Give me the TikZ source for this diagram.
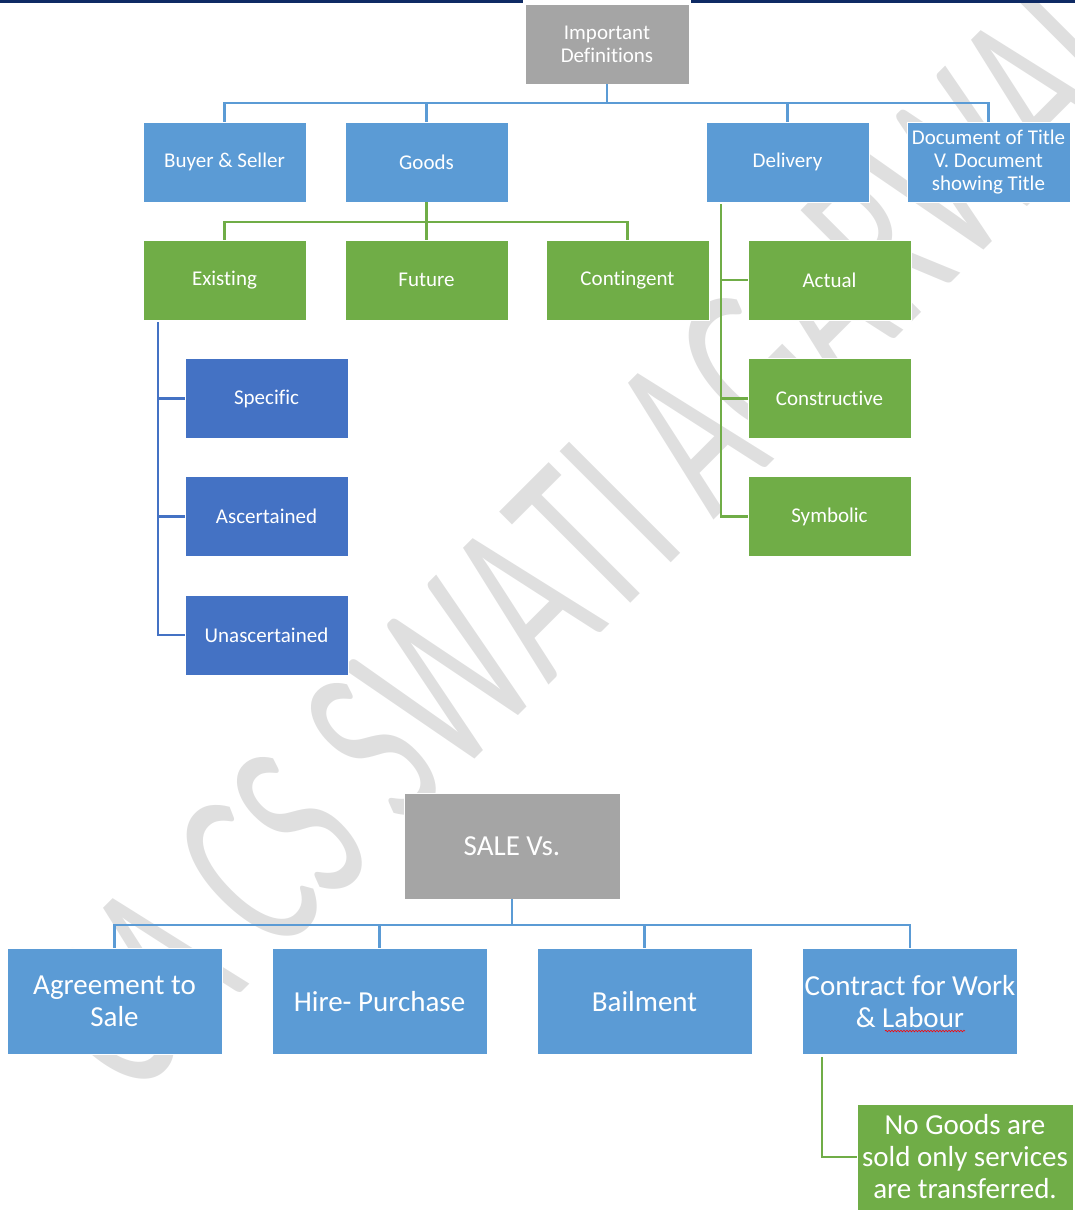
\documentclass[tikz,border=0pt]{standalone}
\usepackage{fontspec}
\setmainfont{Carlito}[Ligatures=NoCommon]
\newfontfamily\wmfont{Carlito}[FakeStretch=0.616, Ligatures=NoCommon, Kerning=Off]
\usetikzlibrary{decorations.pathmorphing}
\definecolor{boxgrey}{HTML}{A5A5A5}
\definecolor{lblue}{HTML}{5B9BD5}
\definecolor{dblue}{HTML}{4472C4}
\definecolor{lgreen}{HTML}{70AD47}
\definecolor{navy}{HTML}{0E2A64}
\definecolor{wmgrey}{HTML}{DFDFDF}
\begin{document}
\begin{tikzpicture}[x=1pt,y=-1pt,
  box/.style={rectangle, draw=white, line width=0.8pt, text=white, align=center,
    inner sep=0pt, minimum width=163pt, minimum height=80pt,
    font=\fontsize{21}{23}\selectfont},
  bigbox/.style={box, minimum width=215pt, minimum height=106pt,
    font=\fontsize{29}{32}\selectfont},
  greybox/.style={fill=boxgrey},
  bluebox/.style={fill=lblue},
  darkbox/.style={fill=dblue},
  greenbox/.style={fill=lgreen},
  bconn/.style={draw=lblue, line width=2.6pt},
  gconn/.style={draw=lgreen, line width=2.6pt},
  dconn/.style={draw=dblue, line width=2.6pt},
  wm/.style={text=wmgrey, inner sep=0pt, rotate=45,
    font=\wmfont\fontsize{245}{250}\selectfont}
]
\useasboundingbox (0,0) rectangle (1075,1210);
\clip (0,0) rectangle (1075,1210);

% watermark
\node[wm, anchor=base east] (wma) at (662,572) {CA CS SWAT};
\node[wm, anchor=base west] (wmb) at (662,572) {I AGARWAL};

% top bar
\fill[navy] (0,0) rectangle (523,3);
\fill[navy] (691,0) rectangle (1075,3);

% ---------- upper chart ----------
\node[box, greybox, minimum width=164pt] (imp) at (607,44) {Important\\Definitions};
\node[box, bluebox] (buyer) at (224.5,162) {Buyer \& Seller};
\node[box, bluebox] (goods) at (426.5,162) {Goods};
\node[box, bluebox] (delivery) at (787.5,162) {Delivery};
\node[box, bluebox] (doc) at (988.5,162) {Document of Title\\V. Document\\showing Title};

\node[box, greenbox] (existing) at (224.5,280) {Existing};
\node[box, greenbox] (future) at (426.5,280) {Future};
\node[box, greenbox] (contingent) at (627.5,280) {Contingent};
\node[box, greenbox] (actual) at (829.5,280) {Actual};
\node[box, greenbox] (constructive) at (829.5,398.5) {Constructive};
\node[box, greenbox] (symbolic) at (829.5,516.5) {Symbolic};

\node[box, darkbox] (specific) at (266.5,398.5) {Specific};
\node[box, darkbox] (ascertained) at (266.5,516.5) {Ascertained};
\node[box, darkbox] (unascertained) at (266.5,635) {Unascertained};

\coordinate (j1) at (607,103);
\draw[bconn] (imp.south) -- (j1);
\draw[bconn] (j1) -| (buyer.north);
\draw[bconn] (j1) -| (goods.north);
\draw[bconn] (j1) -| (delivery.north);
\draw[bconn] (j1) -| (doc.north);

\coordinate (j2) at (426.5,222);
\draw[gconn] (goods.south) -- (j2);
\draw[gconn] (j2) -| (existing.north);
\draw[gconn] (j2) -| (future.north);
\draw[gconn] (j2) -| (contingent.north);

\coordinate (d0) at (721,204);
\draw[gconn] (d0) |- (actual.west);
\draw[gconn] (d0) |- (constructive.west);
\draw[gconn] (d0) |- (symbolic.west);

\coordinate (e0) at (158,322);
\draw[dconn] (e0) |- (specific.west);
\draw[dconn] (e0) |- (ascertained.west);
\draw[dconn] (e0) |- (unascertained.west);

% ---------- lower chart ----------
\node[bigbox, greybox, minimum width=216pt] (sale) at (512,846) {SALE Vs.};
\node[bigbox, bluebox] (agree) at (114.5,1001.5) {Agreement to\\Sale};
\node[bigbox, bluebox] (hire) at (379.5,1001.5) {Hire- Purchase};
\node[bigbox, bluebox] (bail) at (644.5,1001.5) {Bailment};
\node[bigbox, bluebox] (contract) at (910,1001.5) {Contract for Work\\\& Labour};
\node[bigbox, greenbox, minimum width=216pt] (nogoods) at (965,1157)
  {No Goods are\\sold only services\\are transferred.};

\coordinate (j3) at (512,925);
\draw[bconn] (sale.south) -- (j3);
\draw[bconn] (j3) -| (agree.north);
\draw[bconn] (j3) -| (hire.north);
\draw[bconn] (j3) -| (bail.north);
\draw[bconn] (j3) -| (contract.north);

\coordinate (c0) at (822,1057);
\draw[gconn] (c0) |- (nogoods.west);

% spell-check squiggle
\draw[red, line width=0.6pt, decorate,
  decoration={snake, amplitude=0.8pt, segment length=3pt}]
  (885,1031) -- (965,1031);
\end{tikzpicture}
\end{document}
